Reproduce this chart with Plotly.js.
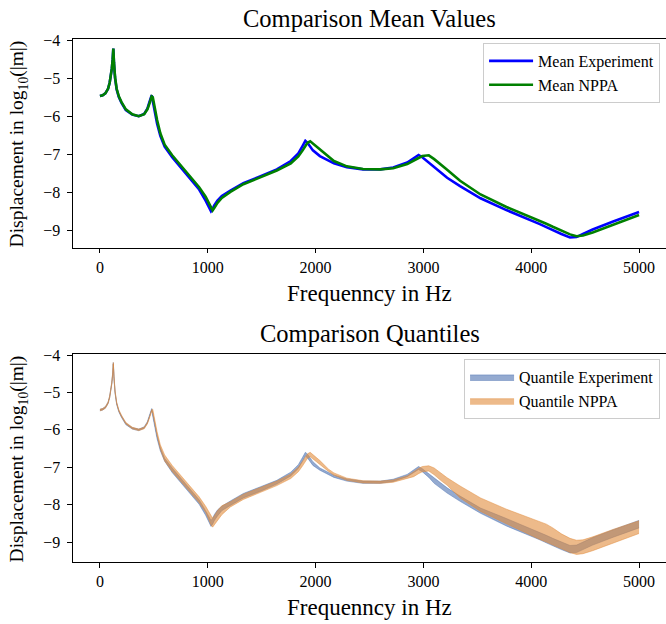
<!DOCTYPE html>
<html>
<head>
<meta charset="utf-8">
<script src="https://cdn.plot.ly/plotly-3.0.1.min.js"></script>
<style>
  html, body { margin: 0; padding: 0; background: #ffffff; }
  #chart { width: 666px; height: 624px; }
</style>
</head>
<body>
<div id="chart"></div>
<script>
// Frequency grid in Hz (denser around the resonances)
const freq = [0, 25, 50, 75, 90, 100, 110, 118, 124, 130, 140, 155, 175, 200, 240, 300, 360, 410, 440, 460,
  472, 480, 490, 505, 530, 560, 600, 670, 750, 840, 920, 980, 1010, 1030, 1045, 1060, 1090, 1130, 1210, 1330,
  1490, 1640, 1770, 1840, 1880, 1905, 1925, 1950, 1975, 2040, 2120, 2170, 2290, 2440, 2600, 2720, 2850, 2910,
  2955, 2990, 3050, 3100, 3160, 3220, 3340, 3530, 3770, 3960, 4080, 4140, 4200, 4280, 4360, 4420, 4480, 4570,
  4760, 5000];

// Mean displacement, log10(|m|)
const meanExperiment = [-5.47, -5.45, -5.40, -5.28, -5.12, -4.98, -4.75, -4.50, -4.22, -4.60, -5.00, -5.30, -5.50, -5.65, -5.84, -5.96, -6.00, -5.94, -5.80, -5.62,
  -5.50, -5.45, -5.60, -5.85, -6.20, -6.52, -6.80, -7.08, -7.35, -7.66, -7.93, -8.22, -8.40, -8.50, -8.44, -8.35, -8.22, -8.10, -7.96, -7.76,
  -7.58, -7.40, -7.18, -6.98, -6.78, -6.65, -6.70, -6.80, -6.90, -7.05, -7.18, -7.24, -7.34, -7.40, -7.40, -7.35, -7.22, -7.10,
  -7.02, -7.08, -7.22, -7.36, -7.50, -7.62, -7.84, -8.16, -8.47, -8.69, -8.84, -8.92, -9.00, -9.10, -9.19, -9.18, -9.10, -8.98,
  -8.77, -8.52];
const meanNPPA = [-5.47, -5.45, -5.40, -5.28, -5.12, -4.98, -4.75, -4.50, -4.22, -4.58, -4.97, -5.28, -5.48, -5.63, -5.82, -5.95, -6.00, -5.95, -5.82, -5.66,
  -5.55, -5.48, -5.50, -5.75, -6.10, -6.45, -6.75, -7.03, -7.30, -7.60, -7.87, -8.12, -8.30, -8.42, -8.48, -8.42, -8.28, -8.15, -7.99, -7.79,
  -7.60, -7.43, -7.24, -7.06, -6.90, -6.78, -6.70, -6.66, -6.72, -6.88, -7.08, -7.18, -7.32, -7.39, -7.40, -7.37, -7.26, -7.18,
  -7.10, -7.05, -7.03, -7.13, -7.28, -7.41, -7.70, -8.06, -8.39, -8.61, -8.76, -8.83, -8.91, -9.02, -9.11, -9.16, -9.14, -9.06,
  -8.86, -8.60];

// Quantile envelopes (lower / upper)
const expLow = [-5.49, -5.47, -5.42, -5.30, -5.14, -5.00, -4.77, -4.52, -4.24, -4.62, -5.02, -5.32, -5.52, -5.67, -5.86, -5.98, -6.02, -5.96, -5.82, -5.64,
  -5.52, -5.47, -5.64, -5.89, -6.24, -6.56, -6.84, -7.14, -7.41, -7.72, -7.99, -8.28, -8.48, -8.58, -8.52, -8.43, -8.30, -8.16, -8.02, -7.82,
  -7.64, -7.45, -7.23, -7.03, -6.83, -6.70, -6.75, -6.85, -6.95, -7.08, -7.21, -7.27, -7.37, -7.43, -7.43, -7.38, -7.25, -7.14,
  -7.06, -7.12, -7.27, -7.43, -7.57, -7.69, -7.91, -8.23, -8.57, -8.79, -8.94, -9.02, -9.10, -9.20, -9.29, -9.28, -9.20, -9.08,
  -8.87, -8.62];
const expHigh = [-5.45, -5.43, -5.38, -5.26, -5.10, -4.96, -4.73, -4.48, -4.20, -4.58, -4.98, -5.28, -5.48, -5.63, -5.82, -5.94, -5.98, -5.92, -5.78, -5.60,
  -5.48, -5.43, -5.56, -5.81, -6.16, -6.48, -6.76, -7.02, -7.29, -7.60, -7.87, -8.16, -8.32, -8.42, -8.36, -8.27, -8.14, -8.04, -7.90, -7.70,
  -7.52, -7.35, -7.13, -6.93, -6.73, -6.60, -6.65, -6.75, -6.85, -7.02, -7.15, -7.21, -7.31, -7.37, -7.37, -7.32, -7.19, -7.06,
  -6.98, -7.04, -7.17, -7.29, -7.43, -7.55, -7.77, -8.09, -8.37, -8.59, -8.74, -8.82, -8.90, -9.00, -9.09, -9.08, -9.00, -8.88,
  -8.67, -8.42];
const nppaLow = [-5.49, -5.47, -5.42, -5.30, -5.14, -5.00, -4.77, -4.52, -4.24, -4.60, -4.99, -5.30, -5.50, -5.65, -5.84, -5.97, -6.02, -5.97, -5.84, -5.68,
  -5.57, -5.50, -5.55, -5.80, -6.15, -6.52, -6.83, -7.11, -7.38, -7.68, -7.95, -8.20, -8.42, -8.54, -8.60, -8.54, -8.40, -8.27, -8.06, -7.86,
  -7.67, -7.49, -7.30, -7.12, -6.96, -6.84, -6.76, -6.72, -6.78, -6.94, -7.11, -7.21, -7.35, -7.42, -7.43, -7.40, -7.29, -7.25,
  -7.17, -7.12, -7.10, -7.20, -7.35, -7.48, -7.82, -8.18, -8.51, -8.78, -8.93, -9.00, -9.08, -9.19, -9.28, -9.33, -9.31, -9.23,
  -9.03, -8.77];
const nppaHigh = [-5.45, -5.43, -5.38, -5.26, -5.10, -4.96, -4.73, -4.48, -4.20, -4.56, -4.95, -5.26, -5.46, -5.61, -5.80, -5.93, -5.98, -5.93, -5.80, -5.64,
  -5.53, -5.46, -5.45, -5.70, -6.05, -6.40, -6.67, -6.95, -7.22, -7.52, -7.79, -8.04, -8.18, -8.30, -8.36, -8.30, -8.16, -8.03, -7.92, -7.72,
  -7.53, -7.37, -7.18, -7.00, -6.84, -6.72, -6.64, -6.60, -6.66, -6.82, -7.05, -7.15, -7.29, -7.36, -7.37, -7.34, -7.23, -7.11,
  -7.03, -6.98, -6.96, -7.02, -7.15, -7.28, -7.50, -7.82, -8.12, -8.32, -8.45, -8.52, -8.62, -8.78, -8.90, -8.95, -8.94, -8.86,
  -8.66, -8.43];

const xTicks = [0, 1000, 2000, 3000, 4000, 5000];
const yTicks = [-9, -8, -7, -6, -5, -4];

const serif = 'Liberation Serif, Times New Roman, serif';
const expFill = 'rgba(76,114,176,0.6)';
const nppaFill = 'rgba(225,140,60,0.6)';

const traces = [
  { x: freq, y: meanExperiment, mode: 'lines', name: 'Mean Experiment',
    line: { color: '#0000ff', width: 2.6 }, xaxis: 'x', yaxis: 'y', legend: 'legend' },
  { x: freq, y: meanNPPA, mode: 'lines', name: 'Mean NPPA',
    line: { color: '#008000', width: 2.6 }, xaxis: 'x', yaxis: 'y', legend: 'legend' },

  { x: freq, y: expLow, mode: 'lines', line: { color: expFill, width: 0.8 },
    showlegend: false, hoverinfo: 'skip', xaxis: 'x2', yaxis: 'y2' },
  { x: freq, y: expHigh, mode: 'lines', name: 'Quantile Experiment', fill: 'tonexty',
    fillcolor: expFill, line: { color: expFill, width: 0.8 }, xaxis: 'x2', yaxis: 'y2', legend: 'legend2' },
  { x: freq, y: nppaLow, mode: 'lines', line: { color: nppaFill, width: 0.8 },
    showlegend: false, hoverinfo: 'skip', xaxis: 'x2', yaxis: 'y2' },
  { x: freq, y: nppaHigh, mode: 'lines', name: 'Quantile NPPA', fill: 'tonexty',
    fillcolor: nppaFill, line: { color: nppaFill, width: 0.8 }, xaxis: 'x2', yaxis: 'y2', legend: 'legend2' }
];

const tickFont = { family: serif, size: 16, color: '#000' };

function xAxis(anchor) {
  return {
    anchor: anchor, domain: [0, 1], range: [-250, 5250], tickvals: xTicks,
    ticks: 'outside', ticklen: 4.5, tickwidth: 1, tickcolor: '#000',
    showline: true, linecolor: '#000', linewidth: 1.1, mirror: true,
    showgrid: false, zeroline: false, tickfont: tickFont
  };
}
function yAxis(anchor, dom, rng) {
  return {
    anchor: anchor, domain: dom, range: rng, tickvals: yTicks,
    ticks: 'outside', ticklen: 4.5, tickwidth: 1, tickcolor: '#000',
    showline: true, linecolor: '#000', linewidth: 1.1, mirror: false,
    showgrid: false, zeroline: false, tickfont: tickFont, ticklabelstandoff: 4
  };
}

const H = 624;
const legendBase = {
  bgcolor: 'rgba(255,255,255,0.8)', bordercolor: '#cccccc', borderwidth: 1,
  font: { family: serif, size: 16, color: '#000' }, xanchor: 'right', yanchor: 'top',
  tracegroupgap: 0, traceorder: 'normal', itemwidth: 44
};

function label(text, x, y, size, angle) {
  return { xref: 'paper', yref: 'paper', showarrow: false, text: text, x: x, y: y,
    xanchor: 'center', yanchor: 'middle', textangle: angle || 0,
    font: { family: serif, size: size, color: '#000' } };
}

const layout = {
  width: 666, height: 624,
  margin: { l: 72.5, r: 0, t: 0, b: 0 },
  paper_bgcolor: '#ffffff', plot_bgcolor: '#ffffff',
  showlegend: true,
  xaxis: xAxis('y'),
  yaxis: yAxis('x', [1 - 247.7 / H, 1 - 39 / H], [-9.46, -3.97]),
  xaxis2: xAxis('y2'),
  yaxis2: yAxis('x2', [1 - 562.3 / H, 1 - 354.3 / H], [-9.54, -3.98]),
  legend: Object.assign({}, legendBase, { x: 0.99, y: 1 - 43 / H }),
  legend2: Object.assign({}, legendBase, { x: 0.99, y: 1 - 359 / H }),
  annotations: [
    label('Comparison Mean Values', 0.5, 1 - 18 / H, 24.5),
    label('Comparison Quantiles', 0.5, 1 - 333 / H, 24.5),
    label('Frequenncy in Hz', 0.5, 1 - 293 / H, 23),
    label('Frequenncy in Hz', 0.5, 1 - 607 / H, 23),
    label('Displacement in log<sub>10</sub>(|m|)', -0.092, 1 - 144 / H, 19.5, -90),
    label('Displacement in log<sub>10</sub>(|m|)', -0.092, 1 - 459 / H, 19.5, -90)
  ]
};

Plotly.newPlot('chart', traces, layout, { staticPlot: true, displayModeBar: false });
</script>
</body>
</html>
